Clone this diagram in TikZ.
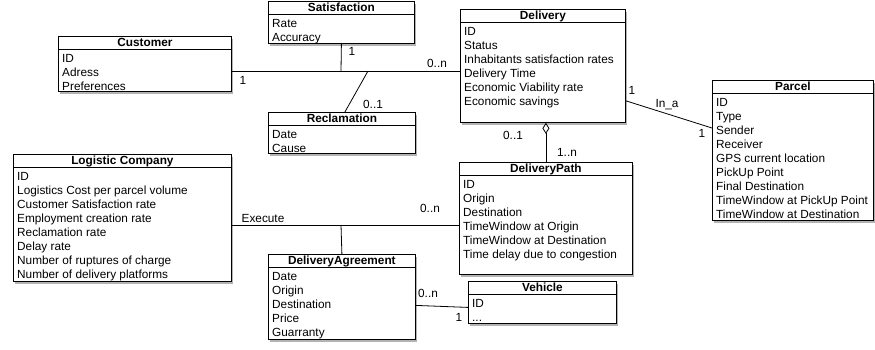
\documentclass[tikz,border=0pt]{standalone}
\usepackage{fontspec}
\setmainfont{Liberation Sans}
\usetikzlibrary{shadows,arrows.meta}
\tikzset{
  classbox/.style={draw, fill=white, line width=0.8pt, inner sep=0pt, anchor=north west,
    drop shadow={shadow xshift=1.5pt, shadow yshift=-3pt, opacity=0.6}},
  classtitle/.style={font=\bfseries\fontsize{11.8}{14}\selectfont, anchor=north, inner sep=0pt, yshift=-2pt},
  classattr/.style={font=\fontsize{11.8}{14}\selectfont, align=left, anchor=north west, inner sep=0pt, xshift=4pt, yshift=-5pt},
  mult/.style={font=\fontsize{11.8}{14}\selectfont, inner sep=0pt},
  assoc/.style={line width=0.8pt},
}
% name, left, top, width, height, title, attributes
\newcommand{\umlclass}[7]{%
  \node[classbox, minimum width=#4pt, minimum height=#5pt] (#1) at (#2,#3) {};
  \node[classtitle] (#1-title) at (#1.north) {#6};
  \draw[line width=0.8pt] ([yshift=-13pt]#1.north west) -- ([yshift=-13pt]#1.north east);
  \node[classattr] (#1-attr) at ([yshift=-13pt]#1.north west) {#7};
}
\begin{document}
\begin{tikzpicture}[x=1pt, y=-1pt]
\useasboundingbox (0,0) rectangle (875,349);
% classes
\umlclass{satisfaction}{268}{1}{146}{42}{Satisfaction}{Rate\\Accuracy}
\umlclass{customer}{58}{36}{173}{55}{Customer}{ID\\Adress\\Preferences}
\umlclass{reclamation}{268}{112}{147}{41}{Reclamation}{Date\\Cause}
\umlclass{delivery}{460}{9}{165}{113}{Delivery}{ID\\Status\\Inhabitants satisfaction rates\\Delivery Time\\Economic Viability rate\\Economic savings}
\umlclass{parcel}{712}{80}{161}{140}{Parcel}{ID\\Type\\Sender\\Receiver\\GPS current location\\PickUp Point\\Final Destination\\TimeWindow at PickUp Point\\TimeWindow at Destination}
\umlclass{logistic}{13}{154}{218}{127}{Logistic Company}{ID\\Logistics Cost per parcel volume\\Customer Satisfaction rate\\Employment creation rate\\Reclamation rate\\Delay rate\\Number of ruptures of charge\\Number of delivery platforms}
\umlclass{path}{459}{162}{173}{112}{DeliveryPath}{ID\\Origin\\Destination\\TimeWindow at Origin\\TimeWindow at Destination\\Time delay due to congestion}
\umlclass{agreement}{268}{254}{147}{85}{DeliveryAgreement}{Date\\Origin\\Destination\\Price\\Guarranty}
\umlclass{vehicle}{468}{281}{148}{42}{Vehicle}{ID\\...}
% connectors
\coordinate (custjoin) at (341,71);
\coordinate (recljoin) at (368,71);
\coordinate (execjoin) at (341,225);
\draw[assoc] (customer.east |- custjoin) -- (delivery.west |- custjoin);
\draw[assoc] (satisfaction.south) -- (custjoin);
\draw[assoc] (recljoin) -- ([xshift=3pt]reclamation.north);
\draw[assoc] ([yshift=22pt]delivery.south east) -- ([yshift=-48pt]parcel.north west);
\draw[assoc, -{Diamond[open, length=11pt, width=7pt]}] (path.north) -- (path.north |- delivery.south);
\draw[assoc] (logistic.east |- execjoin) -- (path.west |- execjoin);
\draw[assoc] (execjoin) -- (agreement.north);
\draw[assoc] ([yshift=-8.5pt]agreement.east) -- ([yshift=-5pt]vehicle.west);
% multiplicities
\node[mult] (m-cust) at (243,80) {1};
\node[mult] (m-sat) at (352,51) {1};
\node[mult] (m-del) at (437,63) {0..n};
\node[mult] (m-recl) at (373,104) {0..1};
\node[mult] (m-delparcel) at (632,90) {1};
\node[mult] (m-ina) at (667,105) {In\_a};
\node[mult] (m-parcel) at (702,133) {1};
\node[mult] (m-agg) at (513,135) {0..1};
\node[mult] (m-path) at (567,152) {1..n};
\node[mult] (m-exec) at (263,218) {Execute};
\node[mult] (m-execpath) at (430,208) {0..n};
\node[mult] (m-agree) at (428,293) {0..n};
\node[mult] (m-veh) at (459,317) {1};
\end{tikzpicture}
\end{document}
